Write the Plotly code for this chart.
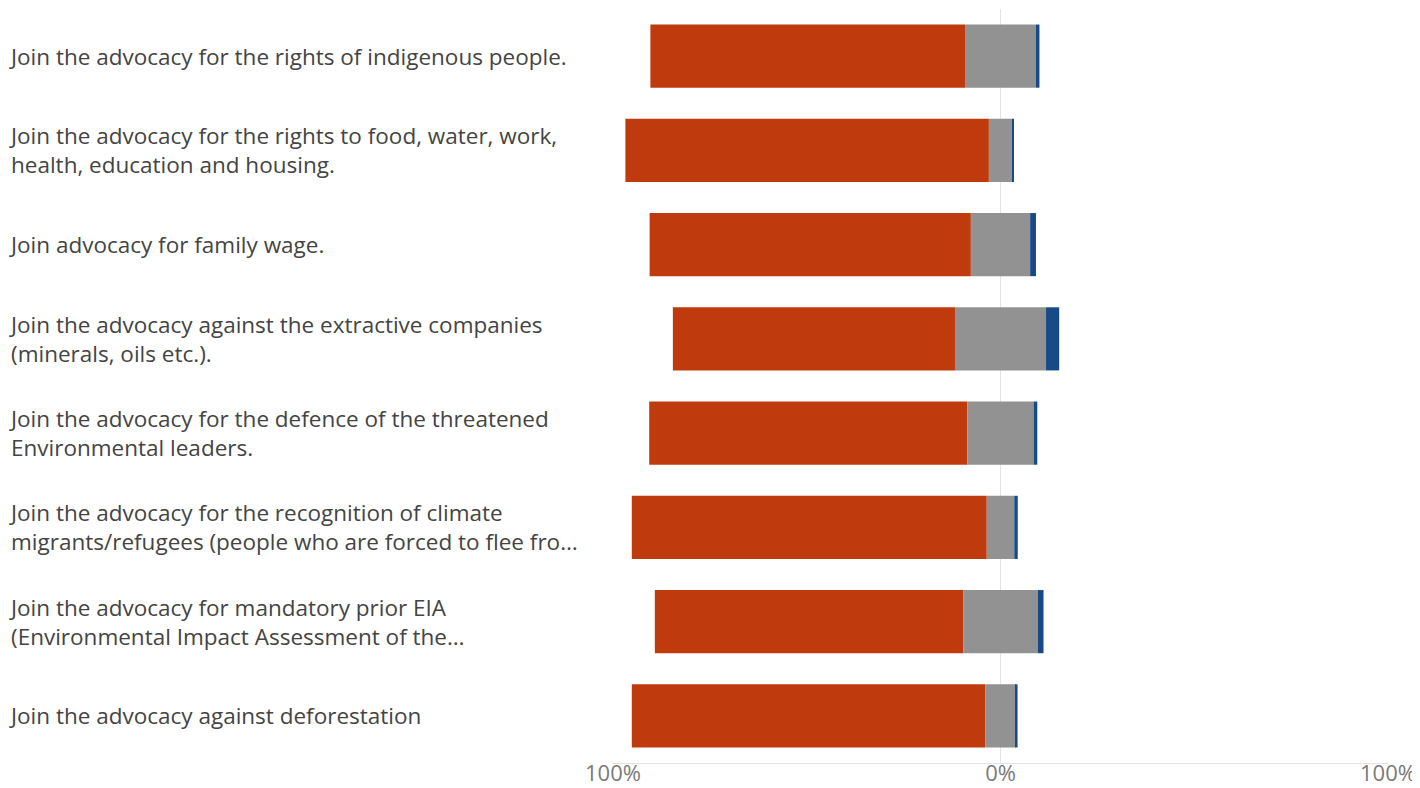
import plotly.graph_objects as go

categories = [
    "Join the advocacy for the rights of indigenous people.",
    "Join the advocacy for the rights to food, water, work,<br>health, education and housing.",
    "Join advocacy for family wage.",
    "Join the advocacy against the extractive companies<br>(minerals, oils etc.).",
    "Join the advocacy for the defence of the threatened<br>Environmental leaders.",
    "Join the advocacy for the recognition of climate<br>migrants/refugees (people who are forced to flee fro…",
    "Join the advocacy for mandatory prior EIA<br>(Environmental Impact Assessment of the…",
    "Join the advocacy against deforestation",
]
orange_vals = [81.2, 93.8, 82.9, 72.8, 82.1, 91.6, 79.6, 91.2]
grey_vals = [18.3, 6.0, 15.3, 23.5, 17.1, 7.1, 19.2, 7.9]
blue_vals = [0.9, 0.45, 1.5, 3.4, 0.95, 0.9, 1.5, 0.45]
tick_vals = [-100, 0, 100]
tick_text = ["100%", "0%", "100%"]

ids = list(range(len(categories)))

fig = go.Figure()
fig.add_trace(go.Bar(
    y=ids, x=orange_vals, orientation="h",
    base=[-(o + g / 2) for o, g in zip(orange_vals, grey_vals)],
    marker=dict(color="#BF3A0C", line=dict(width=0)), name="Orange", hoverinfo="skip"))
fig.add_trace(go.Bar(
    y=ids, x=grey_vals, orientation="h",
    base=[-g / 2 for g in grey_vals],
    marker=dict(color="#929292", line=dict(width=0)), name="Grey", hoverinfo="skip"))
fig.add_trace(go.Bar(
    y=ids, x=blue_vals, orientation="h",
    base=[g / 2 for g in grey_vals],
    marker=dict(color="#174A86", line=dict(width=0)), name="Blue", hoverinfo="skip"))

# page body has an 8px margin; compensate
W, H = 1412, 780
ml, mr, mt, mb = 605, 32, 1, 25
pw = W - ml - mr

annotations = []
for i, c in enumerate(categories):
    annotations.append(dict(
        x=(1 - ml) / pw, xref="paper", y=i, yref="y",
        text=c, showarrow=False, xanchor="left", yanchor="middle", align="left",
        borderpad=0, borderwidth=0,
        font=dict(family="Open Sans, sans-serif", size=22.5, color="#444444")))

fig.update_layout(
    width=W, height=H,
    margin=dict(l=ml, r=mr, t=mt, b=mb, autoexpand=False),
    plot_bgcolor="white", paper_bgcolor="white",
    barmode="overlay", bargap=0.33, showlegend=False,
    annotations=annotations,
    xaxis=dict(range=[-100, 100], tickvals=tick_vals, ticktext=tick_text,
               showgrid=True, gridcolor="#e3e3e3", gridwidth=1,
               zeroline=False, showline=True, linecolor="#e3e3e3", linewidth=1,
               ticks="", ticklabelstandoff=-9,
               tickfont=dict(family="Open Sans, sans-serif", size=22, color="#7a7a7a"),
               fixedrange=True),
    yaxis=dict(range=[7.5, -0.5], showticklabels=False, showgrid=False,
               zeroline=False, showline=False, fixedrange=True),
)

fig.write_html("out.html")
